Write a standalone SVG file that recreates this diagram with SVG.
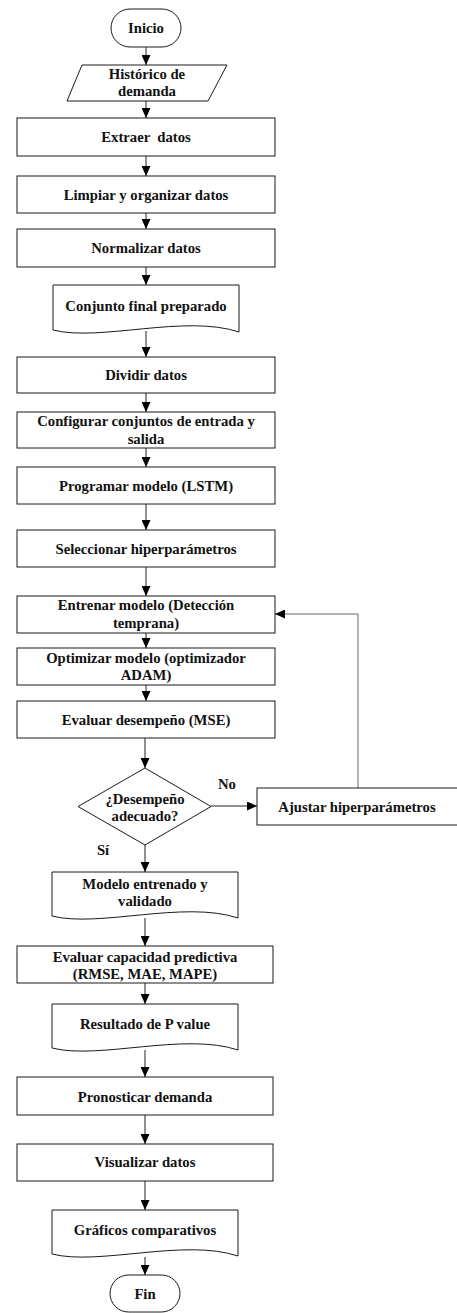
<svg xmlns="http://www.w3.org/2000/svg" width="457" height="1313" viewBox="0 0 457 1313">
<style>
.s{fill:#fff;stroke:#1a1a1a;stroke-width:1}
.c{fill:none;stroke:#222;stroke-width:1}
.f{stroke:#666}
text{font-family:"Liberation Serif","Times New Roman",serif;font-weight:bold;font-size:14.7px;fill:#111;text-anchor:middle}
</style>
<defs>
<marker id="a" markerUnits="userSpaceOnUse" markerWidth="10" markerHeight="9" refX="10" refY="4.5" orient="auto">
<path d="M0,0 L10,4.5 L0,9 z" fill="#000"/>
</marker>
</defs>
<rect width="457" height="1313" fill="#fff"/>
<g id="connectors">
<path class="c" d="M146,47 V65" marker-end="url(#a)"/>
<path class="c" d="M146,101 V118" marker-end="url(#a)"/>
<path class="c" d="M146,156 V176" marker-end="url(#a)"/>
<path class="c" d="M146,213 V229" marker-end="url(#a)"/>
<path class="c" d="M146,267 V285" marker-end="url(#a)"/>
<path class="c" d="M146,331 V357" marker-end="url(#a)"/>
<path class="c" d="M146,393 V412" marker-end="url(#a)"/>
<path class="c" d="M146,448 V467" marker-end="url(#a)"/>
<path class="c" d="M146,504 V530" marker-end="url(#a)"/>
<path class="c" d="M146,567 V596" marker-end="url(#a)"/>
<path class="c" d="M146,633 V648" marker-end="url(#a)"/>
<path class="c" d="M146,685 V701" marker-end="url(#a)"/>
<path class="c" d="M145,738 V768" marker-end="url(#a)"/>
<path class="c" d="M211,806 H257" marker-end="url(#a)"/>
<path class="c f" d="M358,788 V614 H275" marker-end="url(#a)"/>
<path class="c" d="M145,845 V872" marker-end="url(#a)"/>
<path class="c" d="M145,918 V946" marker-end="url(#a)"/>
<path class="c" d="M145,983 V1004" marker-end="url(#a)"/>
<path class="c" d="M145,1050 V1077" marker-end="url(#a)"/>
<path class="c" d="M145,1115 V1144" marker-end="url(#a)"/>
<path class="c" d="M145,1181 V1210" marker-end="url(#a)"/>
<path class="c" d="M145,1257 V1275" marker-end="url(#a)"/>
</g>
<g id="inicio">
<rect class="s" x="111" y="9" width="70" height="38" rx="19"/>
<text x="146" y="33">Inicio</text>
</g>
<g id="historico">
<polygon class="s" points="82,65 227,65 208,101 67,101"/>
<text x="147" y="79">Histórico de</text>
<text x="147" y="95.5">demanda</text>
</g>
<g id="extraer">
<rect class="s" x="17" y="118" width="258" height="38"/>
<text x="146" y="142" xml:space="preserve">Extraer  datos</text>
</g>
<g id="limpiar">
<rect class="s" x="17" y="176" width="258" height="37"/>
<text x="146" y="199.5">Limpiar y organizar datos</text>
</g>
<g id="normalizar">
<rect class="s" x="17" y="229" width="258" height="38"/>
<text x="146" y="253">Normalizar datos</text>
</g>
<g id="conjunto">
<path class="s" d="M53,285 H239 V332 C185,314 100,342 53,330 Z"/>
<text x="146" y="310.5">Conjunto final preparado</text>
</g>
<g id="dividir">
<rect class="s" x="17" y="357" width="258" height="36"/>
<text x="146" y="380">Dividir datos</text>
</g>
<g id="configurar">
<rect class="s" x="17" y="412" width="258" height="36"/>
<text x="146" y="426">Configurar conjuntos de entrada y</text>
<text x="146" y="443.5">salida</text>
</g>
<g id="programar">
<rect class="s" x="17" y="467" width="258" height="37"/>
<text x="146" y="490.5">Programar modelo (LSTM)</text>
</g>
<g id="seleccionar">
<rect class="s" x="17" y="530" width="258" height="37"/>
<text x="146" y="553.5">Seleccionar hiperparámetros</text>
</g>
<g id="entrenar">
<rect class="s" x="17" y="596" width="258" height="37"/>
<text x="146" y="609.5">Entrenar modelo (Detección</text>
<text x="146" y="627.5">temprana)</text>
</g>
<g id="optimizar">
<rect class="s" x="17" y="648" width="258" height="37"/>
<text x="146" y="663">Optimizar modelo (optimizador</text>
<text x="146" y="680">ADAM)</text>
</g>
<g id="evaluar-desempeno">
<rect class="s" x="17" y="701" width="258" height="37"/>
<text x="146" y="724.5">Evaluar desempeño (MSE)</text>
</g>
<g id="decision">
<polygon class="s" points="145,768 211,806.5 145,845 78,806.5"/>
<text x="145" y="803.5">¿Desempeño</text>
<text x="145" y="821">adecuado?</text>
</g>
<g id="labels">
<text x="227" y="789">No</text>
<text x="103" y="855">Sí</text>
</g>
<g id="ajustar">
<rect class="s" x="257" y="788" width="210" height="37"/>
<text x="357" y="812">Ajustar hiperparámetros</text>
</g>
<g id="modelo-entrenado">
<path class="s" d="M52,872 H238 V918 C184,900 99,928 52,916 Z"/>
<text x="145" y="888.5">Modelo entrenado y</text>
<text x="145" y="905.5">validado</text>
</g>
<g id="evaluar-capacidad">
<rect class="s" x="17" y="946" width="256" height="37"/>
<text x="145" y="961.5">Evaluar capacidad predictiva</text>
<text x="145" y="979">(RMSE, MAE, MAPE)</text>
</g>
<g id="resultado">
<path class="s" d="M52,1004 H238 V1050 C184,1032 99,1060 52,1048 Z"/>
<text x="145" y="1029">Resultado de P value</text>
</g>
<g id="pronosticar">
<rect class="s" x="17" y="1077" width="256" height="38"/>
<text x="145" y="1102">Pronosticar demanda</text>
</g>
<g id="visualizar">
<rect class="s" x="17" y="1144" width="256" height="37"/>
<text x="145" y="1167">Visualizar datos</text>
</g>
<g id="graficos">
<path class="s" d="M52,1210 H238 V1256 C184,1238 99,1266 52,1254 Z"/>
<text x="145" y="1235">Gráficos comparativos</text>
</g>
<g id="fin">
<rect class="s" x="110" y="1275" width="70" height="37" rx="18.5"/>
<text x="145" y="1298.5">Fin</text>
</g>
</svg>
